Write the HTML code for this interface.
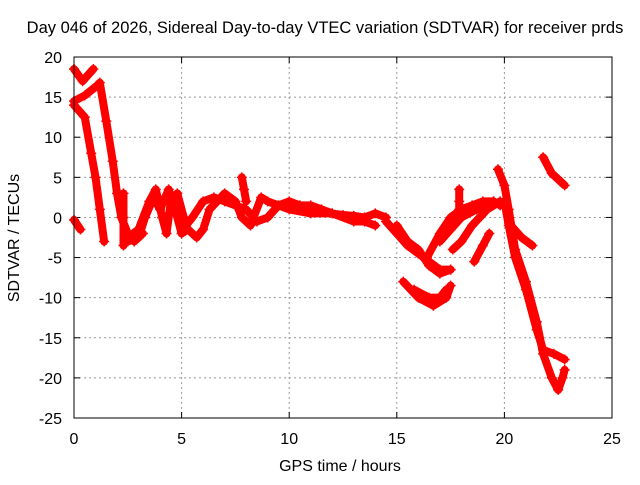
<!DOCTYPE html>
<html><head><meta charset="utf-8"><style>
body{margin:0;background:#fff}
svg text{font-family:"Liberation Sans",sans-serif;font-size:16px;fill:#000}
</style></head><body>
<svg id="chart" width="640" height="480" xmlns="http://www.w3.org/2000/svg">
<rect width="640" height="480" fill="#fff"/>
<text x="325" y="33" text-anchor="middle" style="font-size:16.5px">Day 046 of 2026, Sidereal Day-to-day VTEC variation (SDTVAR) for receiver prds</text>
<text x="340" y="471" text-anchor="middle">GPS time / hours</text>
<text transform="translate(19,238) rotate(-90)" text-anchor="middle">SDTVAR / TECUs</text>
<g id="grid"></g><g id="ticks"></g><g id="series"></g>
<rect x="74" y="57" width="538" height="361" fill="none" stroke="#000" stroke-width="1"/>
</svg>
<script>
const xTicks=[0,5,10,15,20,25];
const yTicks=[20,15,10,5,0,-5,-10,-15,-20,-25];
const traces=[
[[0,18.5],[0.4,17],[0.9,18.5]],
[[0,14.5],[0.5,15.2],[1.1,16.5],[1.2,16.8],[1.5,12],[1.8,7],[2.0,3],[2.2,0],[2.5,-2],[2.8,-3],[3.2,-2]],
[[0,14],[0.5,12.5],[0.8,8],[1.0,5],[1.2,1],[1.4,-3]],
[[0,-0.3],[0.3,-1.5]],
[[2.3,3],[2.3,0],[2.3,-3.5]],
[[2.5,-2.5],[3,-1.5],[3.5,2],[3.8,3.5],[4.1,0],[4.3,-2],[4.5,2],[4.8,3],[5.2,-1],[5.5,0],[6,2],[6.5,2.5],[7,2],[7.5,1.5],[8,1],[8.5,-0.5],[9,0],[9.5,1.5],[10,2],[10.5,1.5],[11,1.5],[11.5,1],[12,0.5],[12.5,0.3],[13,0.2],[13.5,0],[14,0.5],[14.5,0]],
[[2.5,-3],[3,-2.5],[3.3,0],[3.7,2.5],[4,1],[4.4,3.5],[4.7,1],[5,-2],[5.3,-1.5],[5.7,-2.5],[6,-1.5],[6.3,1],[7,3],[7.5,2],[7.8,0],[8.2,-1],[8.7,2.5],[9,2],[10,1],[11,0.5],[12,0.5],[13,-0.5],[13.5,-0.5],[14,-1]],
[[7.8,5],[7.9,3.5],[8,2]],
[[14.5,-0.5],[15,-2],[15.5,-3.5],[16,-4.5],[16.5,-5.5],[17,-6.5],[17.5,-6.5]],
[[15,-1],[15.5,-3],[16,-4],[16.5,-6],[17,-7],[17.5,-6.5]],
[[15.3,-8],[16,-10],[16.7,-11],[17.3,-10],[17.5,-8.5]],
[[15.8,-9],[16.5,-10],[17,-10],[17.3,-9]],
[[16.4,-5],[17,-2],[17.5,0],[18,1],[18.5,1.5],[19,2],[19.5,2]],
[[17,-3],[17.5,-1.5],[18,0],[18.7,1],[19.5,2],[19.8,1.5]],
[[17.6,-4],[18,-3],[18.5,-1],[19.2,1],[19.8,2]],
[[18.6,-5.5],[19,-3.5],[19.3,-2]],
[[17.9,3.5],[17.9,2],[17.9,1]],
[[19.7,6],[20,4],[20.2,1],[20.5,-4],[21,-8],[21.5,-13],[21.8,-17],[22.2,-20],[22.5,-21.5],[22.7,-20],[22.8,-19]],
[[20,2],[20.2,-1],[20.5,-5],[21,-9],[21.5,-14],[21.8,-16.5],[22.3,-17],[22.8,-17.7]],
[[20.3,-1],[20.8,-2.5],[21.3,-3.5]],
[[21.8,7.5],[22.2,5.5],[22.8,4]]
];
const NS="http://www.w3.org/2000/svg";
const X=h=>74+h*538/25, Y=v=>57+(20-v)*361/45;
const g=document.getElementById('grid'),t=document.getElementById('ticks'),s=document.getElementById('series');
function mk(tag,a,p){const e=document.createElementNS(NS,tag);for(const k in a)e.setAttribute(k,a[k]);p.appendChild(e);return e;}
xTicks.forEach(v=>{const x=X(v);
 if(v>0&&v<25){const l=mk('line',{x1:x,x2:x,y1:57,y2:418,stroke:'#999','stroke-dasharray':'2,3'},g);
 
 }
 const tx=mk('text',{x:x,y:444,'text-anchor':'middle'},t);tx.textContent=v;
 
 
 mk('line',{x1:x,x2:x,y1:418,y2:412,stroke:'#000'},t);mk('line',{x1:x,x2:x,y1:57,y2:63,stroke:'#000'},t);});
yTicks.forEach(v=>{const y=Y(v);
 if(v<20&&v>-25){const l=mk('line',{x1:74,x2:612,y1:y,y2:y,stroke:'#999','stroke-dasharray':'2,3'},g);
 
 }
 const tx=mk('text',{x:62,y:y+6,'text-anchor':'end'},t);tx.textContent=v;
 
 
 mk('line',{x1:74,x2:80,y1:y,y2:y,stroke:'#000'},t);mk('line',{x1:612,x2:606,y1:y,y2:y,stroke:'#000'},t);});
traces.forEach(tr=>{
 const p=mk('polyline',{points:tr.map(d=>X(d[0])+','+Y(d[1])).join(' '),fill:'none',stroke:'#f00','stroke-width':8,'stroke-linejoin':'round','stroke-linecap':'round'},s);
 
 
 tr.forEach(d=>{const x=X(d[0]),y=Y(d[1]);
  const m=mk('path',{d:`M${x-5},${y}H${x+5}M${x},${y-5}V${y+5}`,stroke:'#f00','stroke-width':1.5},s);
  
  });
});
</script>
</body></html>
